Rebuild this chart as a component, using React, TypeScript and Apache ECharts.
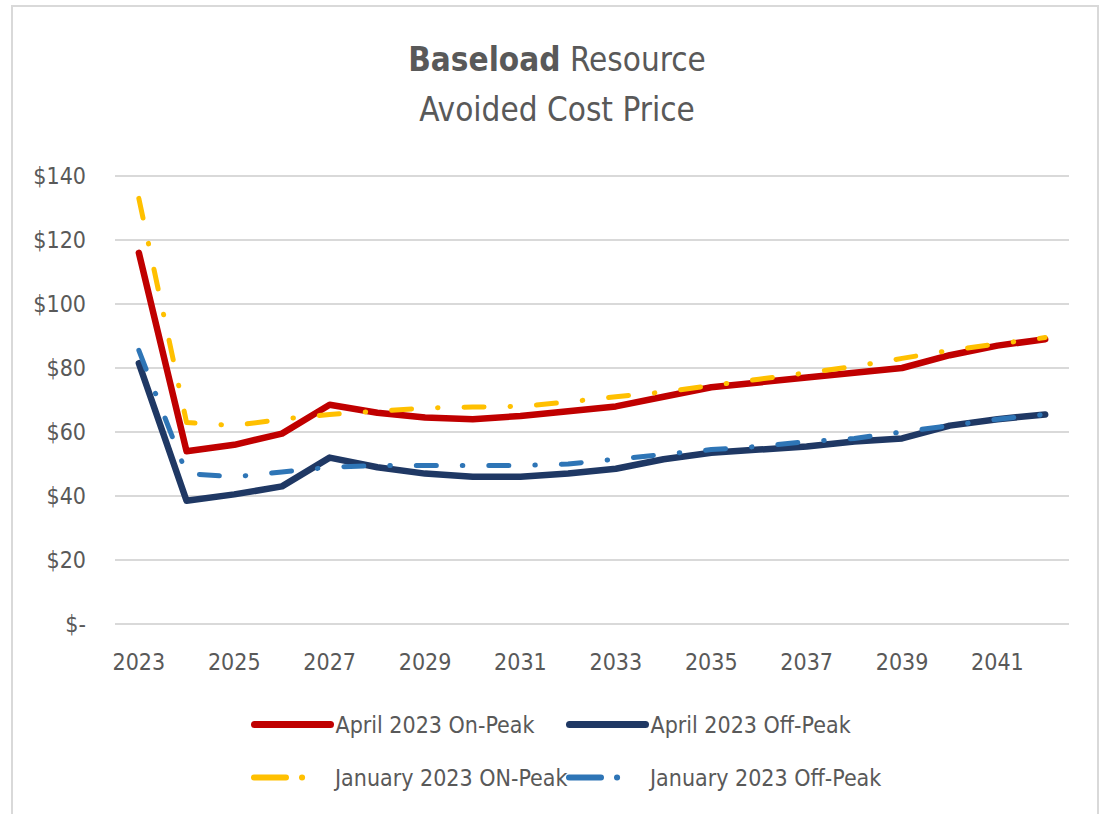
import React, { useEffect, useRef } from 'react';
import * as echarts from 'echarts';

const years = ['2023', '2024', '2025', '2026', '2027', '2028', '2029', '2030', '2031', '2032', '2033', '2034', '2035', '2036', '2037', '2038', '2039', '2040', '2041', '2042'];
const aprilOnPeak = [116, 54, 56, 59.5, 68.5, 66, 64.5, 64, 65, 66.5, 68, 71, 74, 75.5, 77, 78.5, 80, 84, 87, 89];
const aprilOffPeak = [81.5, 38.5, 40.5, 43, 52, 49, 47, 46, 46, 47, 48.5, 51.5, 53.5, 54.5, 55.5, 57, 58, 62, 64, 65.5];
const janOnPeak = [133, 63, 62, 64, 65.5, 66.5, 67.5, 67.8, 68, 69.4, 71, 72.5, 74.5, 76.5, 78.5, 80.5, 83, 85.5, 87.5, 89.5];
const janOffPeak = [85.5, 47, 46, 47.5, 49, 49.5, 49.5, 49.5, 49.5, 50, 51.5, 53, 54.5, 55.5, 57, 58, 60, 62, 64, 65.5];
const seriesNames = ['April 2023 On-Peak', 'April 2023 Off-Peak', 'January 2023 ON-Peak', 'January 2023 Off-Peak'];
const titleLine1Bold = 'Baseload';
const titleLine1Rest = ' Resource';
const titleLine2 = 'Avoided Cost Price';

const FONT = "'DejaVu Sans Condensed', 'Liberation Sans', sans-serif";
const TEXT = '#595959';
const DASH = [20, 26, 0.5, 26];
const LEGEND_DASH = [32, 16, 0.1, 100];

export default function App() {
  const ref = useRef<HTMLDivElement>(null);
  useEffect(() => {
    const chart = echarts.init(ref.current!, null, { renderer: 'svg' });
    const legendBase = {
      itemWidth: 76,
      itemHeight: 14,
      itemStyle: { opacity: 0 },
      textStyle: { color: TEXT, fontSize: 23, fontFamily: FONT },
      padding: 0,
    };
    const solidLegendLine = { width: 7, cap: 'round' };
    const dashLegendLine = { width: 6, cap: 'round', type: LEGEND_DASH };
    chart.setOption({
      animation: false,
      backgroundColor: '#fff',
      textStyle: { fontFamily: FONT },
      graphic: [
        {
          type: 'rect',
          shape: { x: 12, y: 6, width: 1086, height: 830 },
          style: { fill: 'none', stroke: '#d9d9d9', lineWidth: 2 },
          silent: true,
        },
        {
          type: 'text',
          x: 557,
          y: 59,
          style: {
            text: `{b|${titleLine1Bold}}{r|${titleLine1Rest}}`,
            align: 'center',
            verticalAlign: 'middle',
            rich: {
              b: { fontSize: 33, fontWeight: 'bold', fill: TEXT, fontFamily: FONT },
              r: { fontSize: 33, fill: TEXT, fontFamily: FONT },
            },
          },
        },
        {
          type: 'text',
          x: 557,
          y: 109,
          style: {
            text: titleLine2,
            align: 'center',
            verticalAlign: 'middle',
            fontSize: 33,
            fill: TEXT,
            fontFamily: FONT,
          },
        },
      ],
      grid: { left: 115, right: 36, top: 176, bottom: 190, containLabel: false },
      xAxis: {
        type: 'category',
        data: years,
        boundaryGap: true,
        axisLine: { show: false },
        axisTick: { show: false },
        axisLabel: { interval: 1, color: TEXT, fontSize: 23, fontFamily: FONT, margin: 26 },
      },
      yAxis: {
        type: 'value',
        min: 0,
        max: 140,
        interval: 20,
        axisLine: { show: false },
        axisTick: { show: false },
        splitLine: { lineStyle: { color: '#d9d9d9', width: 2 } },
        axisLabel: {
          color: TEXT,
          fontSize: 23,
          fontFamily: FONT,
          margin: 29,
          formatter: (v: number) => (v === 0 ? '$-' : '$' + v),
        },
      },
      legend: [
        { ...legendBase, data: [seriesNames[0]], left: 251, top: 713, lineStyle: solidLegendLine },
        { ...legendBase, data: [seriesNames[1]], left: 566, top: 713, lineStyle: solidLegendLine },
        { ...legendBase, data: [seriesNames[2]], left: 251, top: 766, lineStyle: dashLegendLine },
        { ...legendBase, data: [seriesNames[3]], left: 566, top: 766, lineStyle: dashLegendLine },
      ],
      series: [
        {
          name: seriesNames[0], type: 'line', data: aprilOnPeak, symbol: 'none',
          lineStyle: { color: '#C00000', width: 6.5, cap: 'round', join: 'round' }, itemStyle: { color: '#C00000' },
        },
        {
          name: seriesNames[1], type: 'line', data: aprilOffPeak, symbol: 'none',
          lineStyle: { color: '#1F3864', width: 6.5, cap: 'round', join: 'round' }, itemStyle: { color: '#1F3864' },
        },
        {
          name: seriesNames[2], type: 'line', data: janOnPeak, symbol: 'none',
          lineStyle: { color: '#FFC000', width: 5, type: DASH, cap: 'round', join: 'round' }, itemStyle: { color: '#FFC000' },
        },
        {
          name: seriesNames[3], type: 'line', data: janOffPeak, symbol: 'none',
          lineStyle: { color: '#2E75B6', width: 5, type: DASH, cap: 'round', join: 'round' }, itemStyle: { color: '#2E75B6' },
        },
      ],
    });
    return () => chart.dispose();
  }, []);
  return (
    <div
      ref={ref}
      style={{ position: 'fixed', left: 0, top: 0, width: 1105, height: 814, background: '#fff' }}
    />
  );
}
